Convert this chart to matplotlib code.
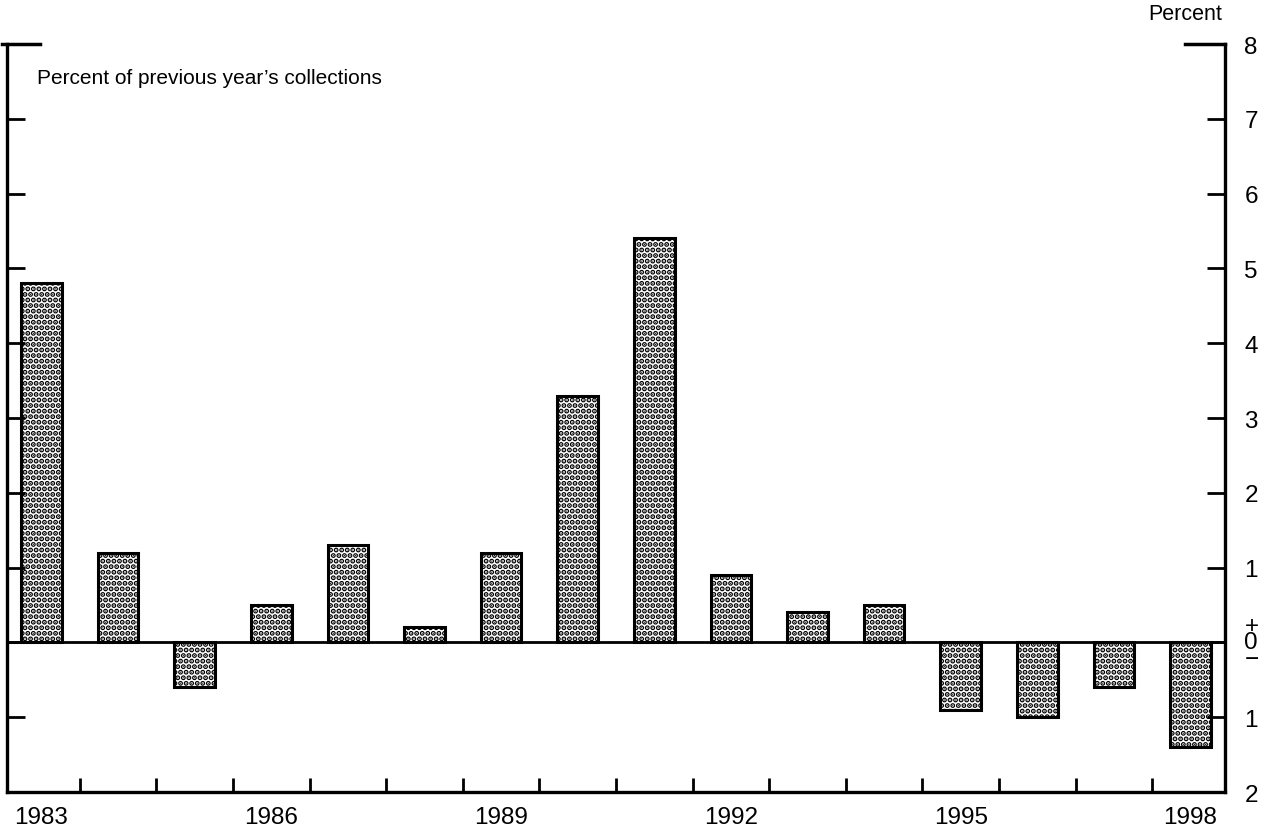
import matplotlib.pyplot as plt
import numpy as np

plt.rcParams['font.family'] = ['Liberation Sans', 'DejaVu Sans']
plt.rcParams['hatch.linewidth'] = 2.6

years = np.arange(1983, 1999)
change = [4.8, 1.2, -0.6, 0.5, 1.3, 0.2, 1.2, 3.3, 5.4, 0.9, 0.4, 0.5,
          -0.9, -1.0, -0.6, -1.4]
year_labels = ["1983", "1986", "1989", "1992", "1995", "1998"]
y_ticks = [-2, -1, 0, 1, 2, 3, 4, 5, 6, 7, 8]
y_labels = ["2", "1", "+\n0\n\u2212", "1", "2", "3", "4", "5", "6", "7", "8"]

fig = plt.figure(figsize=(12.72, 8.29), dpi=100)
ax = fig.add_axes([0.0055, 0.0434, 0.9575, 0.9023])

ax.bar(years, change, width=0.53, color="white", edgecolor="black",
       linewidth=2.2, hatch="...")
ax.axhline(0, color="black", linewidth=2)

ax.set_xlim(1983 - 0.45, 1998 + 0.45)
ax.set_ylim(-2, 8)

ax.spines["top"].set_visible(False)
for s in ["left", "right", "bottom"]:
    ax.spines[s].set_linewidth(2.4)

ax.set_xticks([int(y) for y in year_labels])
ax.set_xticklabels(year_labels, fontsize=17.5)
ax.set_xticks(np.arange(1983.5, 1998, 1), minor=True)
ax.tick_params(axis="x", which="major", length=0, pad=10)
ax.tick_params(axis="x", which="minor", direction="in", length=10, width=2)

ax.set_yticks(y_ticks)
ax.set_yticklabels(y_labels, fontsize=17.5, linespacing=0.68)
ax.tick_params(axis="y", direction="in", length=13, width=2,
               left=True, right=True, labelleft=False, labelright=True, pad=14)

# corner caps at the top of the frame
ax.plot([-0.004, 0.027], [1, 1], transform=ax.transAxes, color="black",
        linewidth=2.5, clip_on=False)
ax.plot([0.967, 1.0], [1, 1], transform=ax.transAxes, color="black",
        linewidth=2.5, clip_on=False)

ax.text(0.025, 0.955, "Percent of previous year\u2019s collections",
        transform=ax.transAxes, fontsize=15, va="center")
fig.text(0.961, 0.982, "Percent", fontsize=15.5, ha="right", va="center")

fig.savefig("out.png", dpi=100)
